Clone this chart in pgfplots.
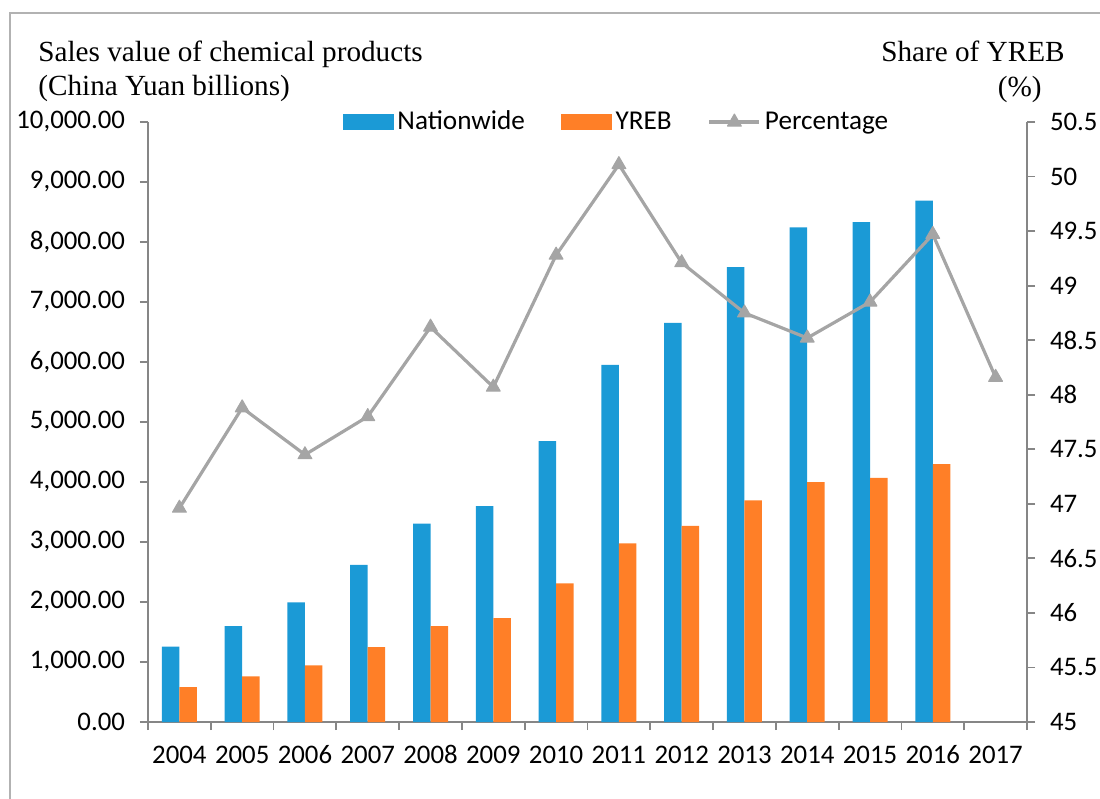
\documentclass[border=0pt]{standalone}
\usepackage{pgfplots}
\pgfplotsset{compat=1.18}
\usepackage{pgfplotstable}
\usepackage{fontspec}
\setmainfont{Liberation Serif}
\newfontfamily\calibri{Carlito}
\definecolor{nblue}{RGB}{27,154,214}
\definecolor{yorange}{RGB}{255,127,39}
\definecolor{pgray}{RGB}{165,165,165}
\definecolor{axgray}{RGB}{134,134,134}

\pgfplotstableread{
x N Y
0 1255 583
1 1600 762
2 1995 945
3 2620 1250
4 3305 1600
5 3600 1733
6 4683 2311
7 5950 2978
8 6650 3267
9 7583 3694
10 8244 4000
11 8333 4067
12 8689 4300
}\bars

\pgfplotstableread{
x P
0 46.96
1 47.88
2 47.45
3 47.80
4 48.62
5 48.07
6 49.28
7 50.11
8 49.21
9 48.75
10 48.52
11 48.85
12 49.47
13 48.16
}\pct

\pgfplotsset{
  common/.style={
    at={(0pt,0pt)}, anchor=south west, scale only axis,
    width=439.5pt, height=300pt,
    xmin=-0.5, xmax=13.5,
    axis line style={axgray, line width=1pt},
    tick style={axgray, line width=0.9pt},
    tick align=outside, major tick length=4pt,
    /pgf/number format/assume math mode=true,
    ticklabel style={font=\calibri\fontsize{13.4}{15}\selectfont, text=black},
  },
  pctlegend/.style={legend image code/.code={\draw[mark repeat=2,mark phase=2,##1] plot coordinates {(0pt,0pt) (12.5pt,0pt) (25pt,0pt)};}},
  barlegend/.style={legend image code/.code={\fill[#1] (0pt,-3.75pt) rectangle (25pt,3.75pt);}},
}

\begin{document}
\begin{tikzpicture}[x=1pt,y=1pt]
\path[use as bounding box] (-74,-38.5) rectangle (476,361);
\draw[gray!60, line width=0.8pt] (-69,-45) -- (-69,354.5) -- (485,354.5);

\begin{axis}[common,
  ymin=0, ymax=10000,
  axis x line*=bottom, axis y line*=left,
  ytick={0,1000,2000,3000,4000,5000,6000,7000,8000,9000,10000},
  scaled y ticks=false,
  yticklabel style={xshift=-4pt, /pgf/number format/fixed, /pgf/number format/fixed zerofill, /pgf/number format/precision=2, /pgf/number format/1000 sep={,}},
  xtick={-0.5,0.5,1.5,2.5,3.5,4.5,5.5,6.5,7.5,8.5,9.5,10.5,11.5,12.5,13.5},
  xticklabels={},
  extra x ticks={0,1,2,3,4,5,6,7,8,9,10,11,12,13},
  extra x tick labels={2004,2005,2006,2007,2008,2009,2010,2011,2012,2013,2014,2015,2016,2017},
  extra x tick style={major tick length=0pt, xticklabel style={text height=9pt, text depth=0pt, yshift=-8pt}},
]
\addplot[ybar, bar width=8.75pt, bar shift=-4.375pt, fill=nblue, draw=none] table[x=x,y=N]{\bars};
\addplot[ybar, bar width=8.75pt, bar shift=4.375pt, fill=yorange, draw=none] table[x=x,y=Y]{\bars};
\end{axis}

\begin{axis}[common,
  ymin=45, ymax=50.5,
  axis x line=none, axis y line*=right,
  ytick={45,45.5,46,46.5,47,47.5,48,48.5,49,49.5,50,50.5},
  yticklabel style={xshift=4pt},
  legend style={at={(0.534,1)}, anchor=center, draw=none, fill=none,
    font=\calibri\fontsize{13.6}{15}\selectfont,
    legend columns=-1,
    /tikz/every even column/.append style={column sep=16pt}},
  legend cell align=left,
]
\addlegendimage{barlegend=nblue}
\addlegendentry{Nationwide}
\addlegendimage{barlegend=yorange}
\addlegendentry{YREB}
\addplot[pgray, line width=1.6pt, line join=round, mark=triangle*, mark size=4pt,
  mark options={solid, fill=pgray, draw=pgray, line width=0.5pt}, pctlegend]
  table[x=x,y=P]{\pct};
\addlegendentry{Percentage}
\end{axis}

\node[anchor=base west, font=\fontsize{14.6}{16}\selectfont, inner sep=0pt] at (-55,330) {Sales value of chemical products};
\node[anchor=base west, font=\fontsize{14.6}{16}\selectfont, inner sep=0pt] at (-55,313) {(China Yuan billions)};
\node[anchor=base east, font=\fontsize{14.6}{16}\selectfont, inner sep=0pt] at (458.5,330) {Share of YREB};
\node[anchor=base east, font=\fontsize{14.6}{16}\selectfont, inner sep=0pt] at (447,312.5) {(\%)};
\end{tikzpicture}
\end{document}
